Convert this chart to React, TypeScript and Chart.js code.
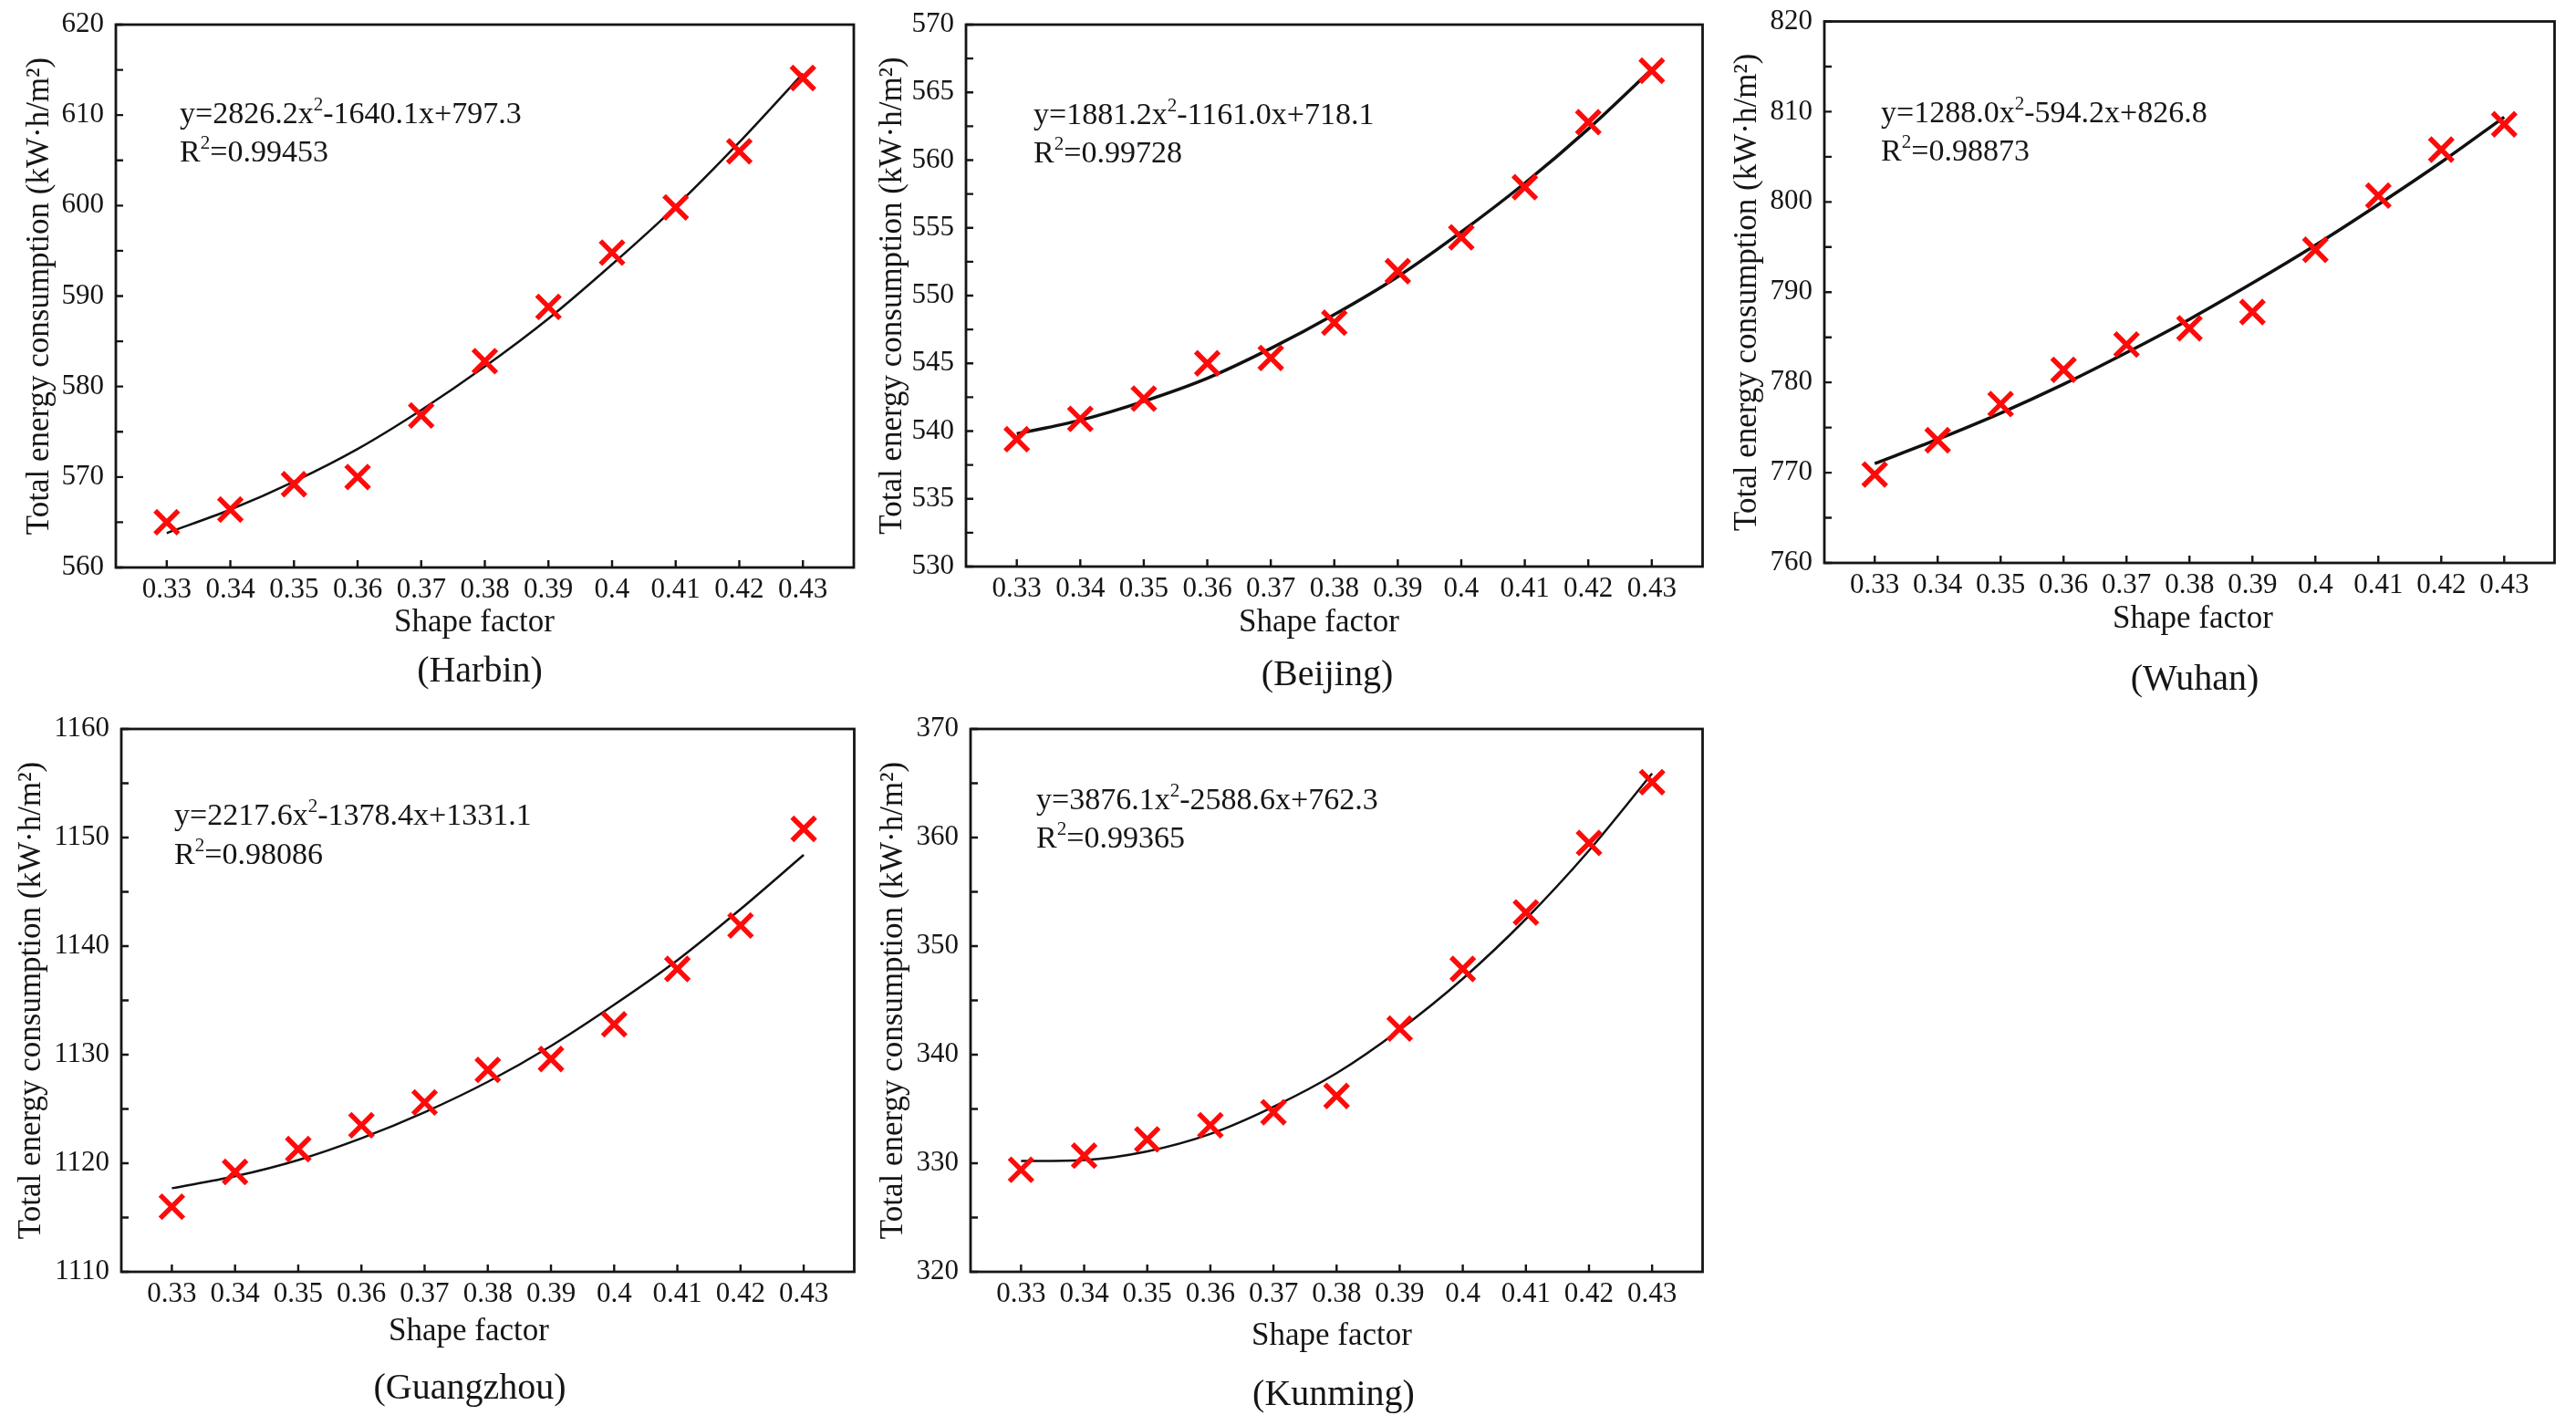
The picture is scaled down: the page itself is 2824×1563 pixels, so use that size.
import React, { useEffect, useRef } from "react";
import { Chart, registerables } from "chart.js";

Chart.register(...registerables);

// ---------------- data ----------------
const shapeFactor = [0.33, 0.34, 0.35, 0.36, 0.37, 0.38, 0.39, 0.4, 0.41, 0.42, 0.43];

const harbinEnergy = [565.0, 566.4, 569.2, 570.0, 576.8, 582.8, 588.8, 594.8, 599.8, 606.0, 614.1];
const harbinFit = [563.8, 566.4, 569.5, 573.1, 577.4, 582.2, 587.5, 593.5, 599.9, 607.0, 614.6];

const beijingEnergy = [539.4, 540.9, 542.4, 545.0, 545.4, 548.0, 551.8, 554.3, 558.0, 562.8, 566.6];
const beijingFit = [539.8, 540.8, 542.2, 543.9, 546.1, 548.6, 551.4, 554.7, 558.3, 562.3, 566.7];

const wuhanEnergy = [769.8, 773.6, 777.6, 781.4, 784.2, 786.0, 787.8, 794.7, 800.7, 805.8, 808.6];
const wuhanFit = [771.0, 773.7, 776.6, 779.8, 783.3, 787.0, 791.0, 795.2, 799.7, 804.4, 809.4];

const guangzhouEnergy = [1116.0, 1119.2, 1121.3, 1123.5, 1125.6, 1128.6, 1129.6, 1132.8, 1137.9, 1141.9, 1150.8];
const guangzhouFit = [1117.7, 1118.8, 1120.3, 1122.3, 1124.7, 1127.5, 1130.8, 1134.6, 1138.7, 1143.4, 1148.4];

const kunmingEnergy = [329.4, 330.7, 332.2, 333.5, 334.7, 336.2, 342.4, 347.9, 353.1, 359.5, 365.1];
const kunmingFit = [330.2, 330.3, 331.1, 332.7, 335.2, 338.3, 342.3, 347.0, 352.5, 358.8, 365.9];

const cityNames = ["(Harbin)", "(Beijing)", "(Wuhan)", "(Guangzhou)", "(Kunming)"];
const equationA = ["y=2826.2x", "y=1881.2x", "y=1288.0x", "y=2217.6x", "y=3876.1x"];
const equationB = ["-1640.1x+797.3", "-1161.0x+718.1", "-594.2x+826.8", "-1378.4x+1331.1", "-2588.6x+762.3"];
const rSquared = ["=0.99453", "=0.99728", "=0.98873", "=0.98086", "=0.99365"];
const yRanges = [
  [560, 620, 10],
  [530, 570, 5],
  [760, 820, 10],
  [1110, 1160, 10],
  [320, 370, 10],
];
const xTitle = "Shape factor";
const yTitle = "Total energy consumption (kW·h/m²)";

const energies = [harbinEnergy, beijingEnergy, wuhanEnergy, guangzhouEnergy, kunmingEnergy];
const fits = [harbinFit, beijingFit, wuhanFit, guangzhouFit, kunmingFit];

// ---------------- layout (page pixels) ----------------
type Layout = {
  box: { left: number; top: number; width: number; height: number };
  area: { l: number; t: number; r: number; b: number };
  yTitleX: number;
  eq: { x: number; y1: number; y2: number };
  xt: { x: number; y: number };
  cap: { x: number; y: number };
  curveWidth: number;
};

const layouts: Layout[] = [
  {
    box: { left: 0, top: 0, width: 960, height: 775 },
    area: { l: 127, t: 27, r: 936, b: 622 },
    yTitleX: 44,
    eq: { x: 197, y1: 135, y2: 177 },
    xt: { x: 520, y: 692 },
    cap: { x: 526, y: 747 },
    curveWidth: 2.5,
  },
  {
    box: { left: 945, top: 0, width: 945, height: 775 },
    area: { l: 1059, t: 27, r: 1869, b: 621 },
    yTitleX: 979,
    eq: { x: 1133, y1: 136, y2: 178 },
    xt: { x: 1446, y: 692 },
    cap: { x: 1455, y: 751 },
    curveWidth: 3.5,
  },
  {
    box: { left: 1880, top: 0, width: 944, height: 775 },
    area: { l: 2000, t: 23, r: 2807, b: 617 },
    yTitleX: 1916,
    eq: { x: 2062, y1: 134, y2: 176 },
    xt: { x: 2404, y: 688 },
    cap: { x: 2406, y: 756 },
    curveWidth: 3.5,
  },
  {
    box: { left: 0, top: 770, width: 960, height: 793 },
    area: { l: 133, t: 799, r: 941, b: 1394 },
    yTitleX: 35,
    eq: { x: 191, y1: 904, y2: 947 },
    xt: { x: 514, y: 1469 },
    cap: { x: 515, y: 1533 },
    curveWidth: 2.5,
  },
  {
    box: { left: 945, top: 770, width: 945, height: 793 },
    area: { l: 1064, t: 799, r: 1873, b: 1394 },
    yTitleX: 980,
    eq: { x: 1136, y1: 887, y2: 929 },
    xt: { x: 1460, y: 1474 },
    cap: { x: 1462, y: 1540 },
    curveWidth: 2.5,
  },
];

const FONT = '"Liberation Serif", "Times New Roman", serif';
const INK = "#151515";
const TICK_SIZE = 31;
const TITLE_SIZE = 35;
const EQ_SIZE = 34;
const CAP_SIZE = 40;

function drawRich(ctx: CanvasRenderingContext2D, parts: [string, boolean][], x: number, y: number, size: number) {
  let cx = x;
  for (const [t, sup] of parts) {
    const s = sup ? size * 0.62 : size;
    ctx.font = `${s}px ${FONT}`;
    ctx.fillText(t, cx, sup ? y - size * 0.4 : y);
    cx += ctx.measureText(t).width;
  }
}

function PanelChart({ idx }: { idx: number }) {
  const ref = useRef<HTMLCanvasElement>(null);
  const L = layouts[idx];

  useEffect(() => {
    const canvas = ref.current;
    if (!canvas) return;
    const { box, area } = L;
    const [yMin, yMax, yStep] = yRanges[idx];
    const yAxisWidth = area.l - box.left;
    const xAxisHeight = box.top + box.height - area.b;
    const titleLineHalf = (TITLE_SIZE * 1.2) / 2;

    const decor = {
      id: "decor" + idx,
      afterDatasetsDraw(chart: any) {
        const ctx: CanvasRenderingContext2D = chart.ctx;
        const ca = chart.chartArea;
        const xs = chart.scales.x;
        const ys = chart.scales.y;
        ctx.save();
        ctx.strokeStyle = INK;
        ctx.lineWidth = 2.4;
        ctx.beginPath();
        for (const t of xs.ticks) {
          const px = xs.getPixelForValue(t.value);
          ctx.moveTo(px, ca.bottom);
          ctx.lineTo(px, ca.bottom - 8);
        }
        const half = yStep / 2;
        for (let k = 0; yMin + k * half <= yMax + 1e-9; k++) {
          const py = ys.getPixelForValue(yMin + k * half);
          ctx.moveTo(ca.left, py);
          ctx.lineTo(ca.left + 8, py);
        }
        ctx.stroke();
        ctx.lineWidth = 2.8;
        ctx.strokeRect(ca.left, ca.top, ca.right - ca.left, ca.bottom - ca.top);

        ctx.fillStyle = INK;
        ctx.textAlign = "left";
        ctx.textBaseline = "alphabetic";
        drawRich(
          ctx,
          [
            [equationA[idx], false],
            ["2", true],
            [equationB[idx], false],
          ],
          L.eq.x - box.left,
          L.eq.y1 - box.top,
          EQ_SIZE
        );
        drawRich(
          ctx,
          [
            ["R", false],
            ["2", true],
            [rSquared[idx], false],
          ],
          L.eq.x - box.left,
          L.eq.y2 - box.top,
          EQ_SIZE
        );

        ctx.textAlign = "center";
        ctx.font = `${TITLE_SIZE}px ${FONT}`;
        ctx.fillText(xTitle, L.xt.x - box.left, L.xt.y - box.top);
        ctx.font = `${CAP_SIZE}px ${FONT}`;
        ctx.fillText(cityNames[idx], L.cap.x - box.left, L.cap.y - box.top);
        ctx.restore();
      },
    };

    const chart = new Chart(canvas, {
      type: "scatter",
      data: {
        datasets: [
          {
            type: "scatter",
            label: "data",
            data: shapeFactor.map((x, i) => ({ x, y: energies[idx][i] })),
            pointStyle: "crossRot",
            pointRadius: 18,
            pointHoverRadius: 18,
            pointBorderWidth: 5.5,
            pointHoverBorderWidth: 5.5,
            borderColor: "#ff0a0a",
            backgroundColor: "#ff0a0a",
          },
          {
            type: "line",
            label: "fit",
            data: shapeFactor.map((x, i) => ({ x, y: fits[idx][i] })),
            borderColor: "#111",
            borderWidth: L.curveWidth,
            pointRadius: 0,
            pointHoverRadius: 0,
            fill: false,
            cubicInterpolationMode: "monotone",
          } as any,
        ],
      },
      options: {
        animation: false,
        responsive: false,
        events: [],
        layout: {
          padding: {
            left: 0,
            bottom: 0,
            top: area.t - box.top,
            right: box.left + box.width - area.r,
          },
        },
        plugins: {
          legend: { display: false },
          tooltip: { enabled: false },
        },
        scales: {
          x: {
            type: "linear",
            min: 0.322,
            max: 0.438,
            grid: { display: false, drawTicks: false },
            border: { display: false },
            afterBuildTicks: (s: any) => {
              s.ticks = shapeFactor.map((v) => ({ value: v }));
            },
            afterFit: (s: any) => {
              s.height = xAxisHeight;
              s.paddingLeft = 0;
              s.paddingRight = 0;
            },
            ticks: {
              autoSkip: false,
              maxRotation: 0,
              minRotation: 0,
              padding: 6,
              color: INK,
              font: { family: FONT, size: TICK_SIZE },
              callback: (v: any) => String(parseFloat(Number(v).toFixed(2))),
            },
          },
          y: {
            type: "linear",
            min: yMin,
            max: yMax,
            grid: { display: false, drawTicks: false },
            border: { display: false },
            afterFit: (s: any) => {
              s.width = yAxisWidth;
              s.paddingTop = 0;
              s.paddingBottom = 0;
            },
            ticks: {
              stepSize: yStep,
              padding: 13,
              color: INK,
              font: { family: FONT, size: TICK_SIZE },
              callback: (v: any) => String(v),
            },
            title: {
              display: true,
              text: yTitle,
              color: INK,
              font: { family: FONT, size: TITLE_SIZE },
              padding: { top: L.yTitleX - box.left - titleLineHalf, bottom: 0 },
            },
          },
        },
      },
      plugins: [decor],
    } as any);

    return () => chart.destroy();
  }, [idx]);

  const { box } = L;
  return (
    <canvas
      ref={ref}
      width={box.width}
      height={box.height}
      style={{
        position: "absolute",
        left: box.left,
        top: box.top,
        width: box.width,
        height: box.height,
      }}
    />
  );
}

export default function App() {
  return (
    <div
      style={{
        position: "absolute",
        left: 0,
        top: 0,
        width: 2824,
        height: 1563,
        background: "#ffffff",
        overflow: "hidden",
      }}
    >
      {layouts.map((_, i) => (
        <PanelChart key={i} idx={i} />
      ))}
    </div>
  );
}
